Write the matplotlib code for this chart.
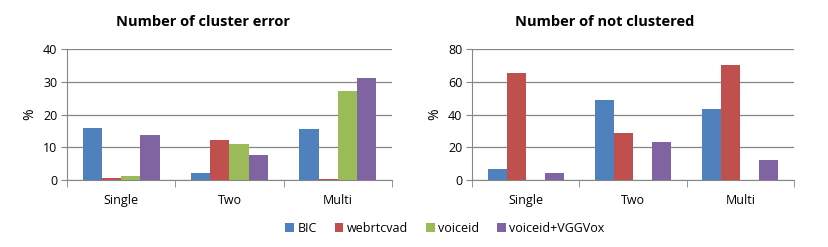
import numpy as np
import matplotlib.pyplot as plt

categories = ['Single', 'Two', 'Multi']
series = ['BIC', 'webrtcvad', 'voiceid', 'voiceid+VGGVox']
colors = ['#4F81BD', '#C0504D', '#9BBB59', '#8064A2']

cluster_error = {
    'BIC': [15.9, 2.0, 15.6],
    'webrtcvad': [0.7, 12.3, 0.4],
    'voiceid': [1.3, 11.1, 27.3],
    'voiceid+VGGVox': [13.8, 7.7, 31.2],
}
not_clustered = {
    'BIC': [6.9, 48.9, 43.5],
    'webrtcvad': [65.6, 28.8, 70.3],
    'voiceid': [0, 0, 0],
    'voiceid+VGGVox': [4.1, 23.4, 12.4],
}

plt.rcParams['font.family'] = ['Open Sans', 'DejaVu Sans']

fig = plt.figure(figsize=(8.29, 2.47), dpi=100)
ax1 = fig.add_axes([67 / 829, 1 - 180 / 247, 325 / 829, 131 / 247])
ax2 = fig.add_axes([472 / 829, 1 - 180 / 247, 322 / 829, 131 / 247])


def draw(ax, data, ymax, step, title, tx):
    x = np.arange(len(categories))
    w = 0.177
    for i, s in enumerate(series):
        ax.bar(x + (i - 1.5) * w, data[s], width=w, color=colors[i], label=s, zorder=3)
    ax.set_xlim(-0.5, len(categories) - 0.5)
    ax.set_ylim(0, ymax)
    ax.set_yticks(np.arange(0, ymax + 1, step))
    ax.set_xticks(x)
    ax.set_xticklabels(categories)
    ax.set_xticks(np.arange(-0.5, len(categories), 1), minor=True)
    ax.tick_params(axis='x', which='major', length=0, pad=10, labelsize=9)
    ax.tick_params(axis='x', which='minor', length=5, color='#868686')
    ax.tick_params(axis='y', length=4, color='#868686', labelsize=9, pad=3)
    ax.grid(axis='y', color='#868686', linewidth=0.9, zorder=0)
    for sp in ['top', 'right']:
        ax.spines[sp].set_visible(False)
    for sp in ['left', 'bottom']:
        ax.spines[sp].set_color('#868686')
    ax.set_ylabel('%', fontsize=10, labelpad=4)
    fig.text(tx, 1 - 22 / 247, title, ha='center', va='center', fontsize=10.5, fontweight='bold')


draw(ax1, cluster_error, 40, 10, 'Number of cluster error', 203 / 829)
draw(ax2, not_clustered, 80, 20, 'Number of not clustered', 605 / 829)

handles, labels = ax1.get_legend_handles_labels()
fig.legend(handles, labels, loc='center', bbox_to_anchor=(445 / 829, 1 - 228 / 247), ncol=4,
           frameon=False, fontsize=9, handlelength=0.7, handleheight=0.7, handletextpad=0.3,
           columnspacing=1.4)

fig.savefig('out.png', dpi=100)
